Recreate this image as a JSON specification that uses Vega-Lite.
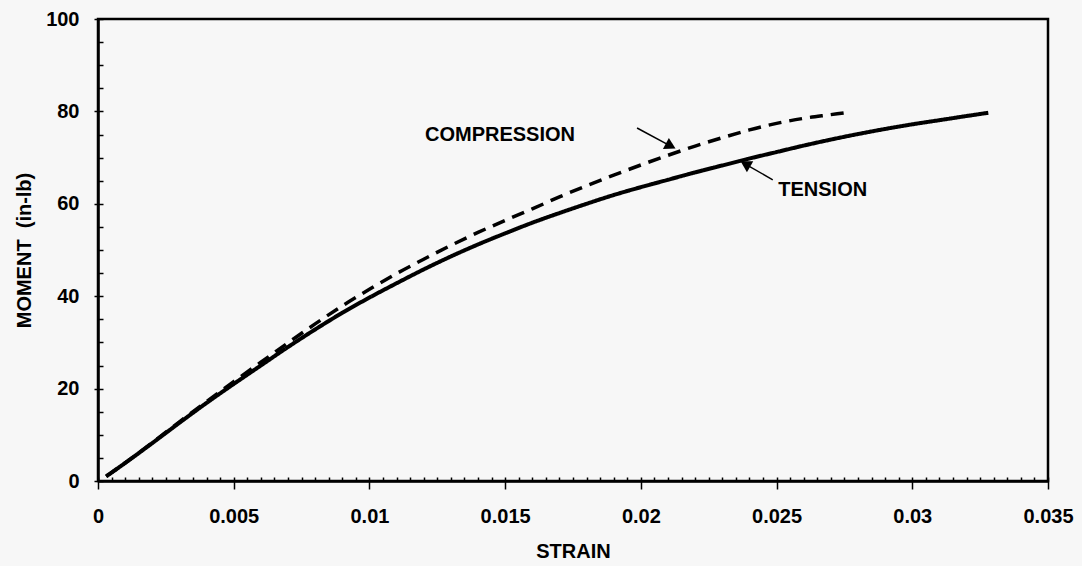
{
  "$schema": "https://vega.github.io/schema/vega-lite/v6.json",
  "width": 950,
  "height": 462,
  "autosize": {"type": "none"},
  "padding": {"left": 98, "top": 19, "right": 34, "bottom": 85},
  "background": "#f7f7f7",
  "config": {
    "view": {"stroke": "black", "strokeWidth": 2.5},
    "font": "Liberation Sans",
    "axis": {"grid": false, "domainColor": "black", "tickColor": "black", "labelColor": "black", "titleColor": "black"}
  },
  "datasets": {
    "curves": [
      {"strain": 0.0003, "moment": 1.0, "series": "COMPRESSION"},
      {"strain": 0.001, "moment": 3.9, "series": "COMPRESSION"},
      {"strain": 0.002, "moment": 8.3, "series": "COMPRESSION"},
      {"strain": 0.003, "moment": 12.8, "series": "COMPRESSION"},
      {"strain": 0.004, "moment": 17.2, "series": "COMPRESSION"},
      {"strain": 0.005, "moment": 21.5, "series": "COMPRESSION"},
      {"strain": 0.006, "moment": 25.7, "series": "COMPRESSION"},
      {"strain": 0.007, "moment": 29.9, "series": "COMPRESSION"},
      {"strain": 0.008, "moment": 34.0, "series": "COMPRESSION"},
      {"strain": 0.009, "moment": 37.9, "series": "COMPRESSION"},
      {"strain": 0.010, "moment": 41.5, "series": "COMPRESSION"},
      {"strain": 0.011, "moment": 44.9, "series": "COMPRESSION"},
      {"strain": 0.012, "moment": 48.0, "series": "COMPRESSION"},
      {"strain": 0.013, "moment": 51.0, "series": "COMPRESSION"},
      {"strain": 0.014, "moment": 53.8, "series": "COMPRESSION"},
      {"strain": 0.015, "moment": 56.4, "series": "COMPRESSION"},
      {"strain": 0.016, "moment": 58.9, "series": "COMPRESSION"},
      {"strain": 0.017, "moment": 61.5, "series": "COMPRESSION"},
      {"strain": 0.018, "moment": 63.9, "series": "COMPRESSION"},
      {"strain": 0.019, "moment": 66.2, "series": "COMPRESSION"},
      {"strain": 0.020, "moment": 68.4, "series": "COMPRESSION"},
      {"strain": 0.021, "moment": 70.5, "series": "COMPRESSION"},
      {"strain": 0.022, "moment": 72.5, "series": "COMPRESSION"},
      {"strain": 0.023, "moment": 74.3, "series": "COMPRESSION"},
      {"strain": 0.024, "moment": 76.0, "series": "COMPRESSION"},
      {"strain": 0.025, "moment": 77.4, "series": "COMPRESSION"},
      {"strain": 0.026, "moment": 78.5, "series": "COMPRESSION"},
      {"strain": 0.027, "moment": 79.3, "series": "COMPRESSION"},
      {"strain": 0.0275, "moment": 79.7, "series": "COMPRESSION"},
      {"strain": 0.0003, "moment": 1.0, "series": "TENSION"},
      {"strain": 0.001, "moment": 3.9, "series": "TENSION"},
      {"strain": 0.002, "moment": 8.2, "series": "TENSION"},
      {"strain": 0.003, "moment": 12.6, "series": "TENSION"},
      {"strain": 0.004, "moment": 16.9, "series": "TENSION"},
      {"strain": 0.005, "moment": 21.0, "series": "TENSION"},
      {"strain": 0.006, "moment": 25.0, "series": "TENSION"},
      {"strain": 0.007, "moment": 29.0, "series": "TENSION"},
      {"strain": 0.008, "moment": 32.8, "series": "TENSION"},
      {"strain": 0.009, "moment": 36.4, "series": "TENSION"},
      {"strain": 0.010, "moment": 39.7, "series": "TENSION"},
      {"strain": 0.011, "moment": 42.8, "series": "TENSION"},
      {"strain": 0.012, "moment": 45.8, "series": "TENSION"},
      {"strain": 0.013, "moment": 48.6, "series": "TENSION"},
      {"strain": 0.014, "moment": 51.2, "series": "TENSION"},
      {"strain": 0.015, "moment": 53.6, "series": "TENSION"},
      {"strain": 0.016, "moment": 55.9, "series": "TENSION"},
      {"strain": 0.017, "moment": 58.0, "series": "TENSION"},
      {"strain": 0.018, "moment": 60.0, "series": "TENSION"},
      {"strain": 0.019, "moment": 61.9, "series": "TENSION"},
      {"strain": 0.020, "moment": 63.6, "series": "TENSION"},
      {"strain": 0.021, "moment": 65.2, "series": "TENSION"},
      {"strain": 0.022, "moment": 66.8, "series": "TENSION"},
      {"strain": 0.023, "moment": 68.3, "series": "TENSION"},
      {"strain": 0.024, "moment": 69.8, "series": "TENSION"},
      {"strain": 0.025, "moment": 71.2, "series": "TENSION"},
      {"strain": 0.026, "moment": 72.6, "series": "TENSION"},
      {"strain": 0.027, "moment": 73.9, "series": "TENSION"},
      {"strain": 0.028, "moment": 75.1, "series": "TENSION"},
      {"strain": 0.029, "moment": 76.2, "series": "TENSION"},
      {"strain": 0.030, "moment": 77.2, "series": "TENSION"},
      {"strain": 0.031, "moment": 78.1, "series": "TENSION"},
      {"strain": 0.032, "moment": 79.0, "series": "TENSION"},
      {"strain": 0.0328, "moment": 79.7, "series": "TENSION"}
    ],
    "arrows": [
      {"label": "COMPRESSION", "x1": 0.01986, "y1": 76.4, "x2": 0.0211, "y2": 72.5, "tx": 0.01481, "ty": 74.9},
      {"label": "TENSION", "x1": 0.02486, "y1": 65.2, "x2": 0.02385, "y2": 68.6, "tx": 0.0267, "ty": 62.9}
    ]
  },
  "layer": [
    {
      "data": {"name": "curves"},
      "mark": {"type": "line", "color": "black", "interpolate": "monotone"},
      "encoding": {
        "x": {
          "field": "strain", "type": "quantitative",
          "scale": {"domain": [0, 0.035], "nice": false, "zero": true},
          "axis": {
            "orient": "bottom",
            "values": [0, 0.005, 0.01, 0.015, 0.02, 0.025, 0.03, 0.035],
            "format": ".3~f",
            "title": "STRAIN",
            "titleFont": "Liberation Sans", "titleFontSize": 20, "titleFontWeight": "bold", "titlePadding": 15,
            "labelFont": "Liberation Sans", "labelFontSize": 20, "labelFontWeight": "bold", "labelPadding": 17,
            "tickSize": 8, "tickWidth": 1.5, "domainWidth": 2.5, "labelFlush": false, "labelOverlap": false
          }
        },
        "y": {
          "field": "moment", "type": "quantitative",
          "scale": {"domain": [0, 100], "nice": false},
          "axis": {
            "orient": "left",
            "values": [0, 20, 40, 60, 80, 100],
            "title": "MOMENT\u00a0\u00a0(in-lb)",
            "titleFont": "Liberation Sans", "titleFontSize": 20, "titleFontWeight": "bold", "titlePadding": 11,
            "labelFont": "Liberation Sans", "labelFontSize": 20, "labelFontWeight": "bold", "labelPadding": 15,
            "tickSize": 4, "tickWidth": 1.5, "domainWidth": 2.5, "labelFlush": false, "labelOverlap": false
          }
        },
        "strokeDash": {
          "field": "series", "type": "nominal",
          "scale": {"domain": ["TENSION", "COMPRESSION"], "range": [[1, 0], [13, 8]]},
          "legend": null
        },
        "strokeWidth": {
          "field": "series", "type": "nominal",
          "scale": {"domain": ["TENSION", "COMPRESSION"], "range": [4, 3.5]},
          "legend": null
        }
      }
    },
    {
      "data": {"name": "arrows"},
      "mark": {"type": "rule", "color": "black", "strokeWidth": 1.5},
      "encoding": {
        "x": {"field": "x1", "type": "quantitative",
          "axis": {
            "orient": "bottom", "title": null, "labels": false, "domain": false,
            "tickSize": -4, "tickWidth": 1.5,
            "values": [0, 0.0005, 0.001, 0.0015, 0.002, 0.0025, 0.003, 0.0035, 0.004, 0.0045, 0.005, 0.0055, 0.006, 0.0065, 0.007, 0.0075, 0.008, 0.0085, 0.009, 0.0095, 0.01, 0.0105, 0.011, 0.0115, 0.012, 0.0125, 0.013, 0.0135, 0.014, 0.0145, 0.015, 0.0155, 0.016, 0.0165, 0.017, 0.0175, 0.018, 0.0185, 0.019, 0.0195, 0.02, 0.0205, 0.021, 0.0215, 0.022, 0.0225, 0.023, 0.0235, 0.024, 0.0245, 0.025, 0.0255, 0.026, 0.0265, 0.027, 0.0275, 0.028, 0.0285, 0.029, 0.0295, 0.03, 0.0305, 0.031, 0.0315, 0.032, 0.0325, 0.033, 0.0335, 0.034, 0.0345, 0.035]
          }},
        "y": {"field": "y1", "type": "quantitative",
          "axis": {
            "orient": "left", "title": null, "labels": false, "domain": false,
            "tickSize": -5, "tickWidth": 1.5,
            "values": [0, 5, 10, 15, 20, 25, 30, 35, 40, 45, 50, 55, 60, 65, 70, 75, 80, 85, 90, 95, 100]
          }},
        "x2": {"field": "x2"},
        "y2": {"field": "y2"}
      }
    },
    {
      "data": {"name": "arrows"},
      "transform": [{"filter": "datum.label == 'COMPRESSION'"}],
      "mark": {"type": "point", "shape": "triangle-up", "filled": true, "color": "black", "opacity": 1, "size": 160, "angle": 118},
      "encoding": {
        "x": {"field": "x2", "type": "quantitative", "axis": null},
        "y": {"field": "y2", "type": "quantitative", "axis": null}
      }
    },
    {
      "data": {"name": "arrows"},
      "transform": [{"filter": "datum.label == 'TENSION'"}],
      "mark": {"type": "point", "shape": "triangle-up", "filled": true, "color": "black", "opacity": 1, "size": 160, "angle": 300},
      "encoding": {
        "x": {"field": "x2", "type": "quantitative", "axis": null},
        "y": {"field": "y2", "type": "quantitative", "axis": null}
      }
    },
    {
      "data": {"name": "arrows"},
      "mark": {"type": "text", "font": "Liberation Sans", "fontSize": 20, "fontWeight": "bold", "color": "black", "align": "center", "baseline": "middle"},
      "encoding": {
        "x": {"field": "tx", "type": "quantitative", "axis": null},
        "y": {"field": "ty", "type": "quantitative", "axis": null},
        "text": {"field": "label"}
      }
    }
  ],
  "resolve": {"axis": {"x": "independent", "y": "independent"}}
}
